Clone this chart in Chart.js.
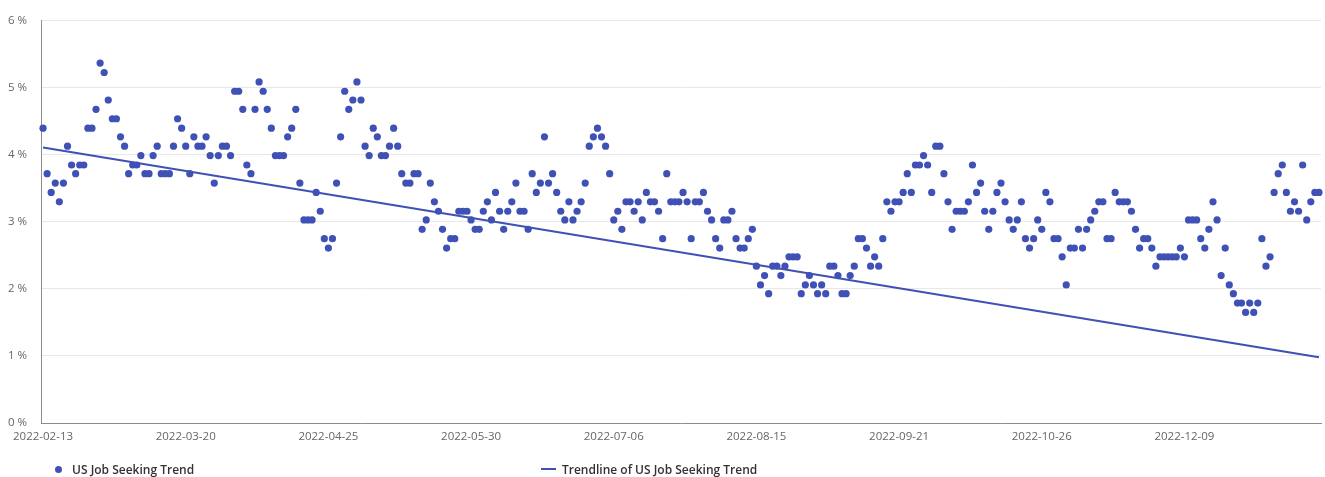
<!DOCTYPE html>
<html>
<head>
<meta charset="utf-8">
<title>US Job Seeking Trend</title>
<script src="https://cdn.jsdelivr.net/npm/chart.js@4.4.0/dist/chart.umd.min.js"></script>
<style>
    html, body { margin: 0; padding: 0; background: #fff; }
    #wrap { position: relative; width: 1325px; height: 477px; }
    .legend-item {
        position: absolute;
        top: 460px;
        height: 18px;
        display: flex;
        align-items: center;
        font: 600 12px "Open Sans", sans-serif;
        color: #333;
        white-space: nowrap;
    }
    .legend-dot { width: 7px; height: 7px; border-radius: 50%; background: #3f51b5; margin-right: 10px; }
    .legend-line { width: 15px; height: 2px; background: #3f51b5; margin-right: 6px; }
</style>
</head>
<body>
<div id="wrap">
    <canvas id="trend-chart"></canvas>
    <div class="legend-item" style="left: 55px;"><span class="legend-dot"></span>US Job Seeking Trend</div>
    <div class="legend-item" style="left: 541px;"><span class="legend-line"></span>Trendline of US Job Seeking Trend</div>
</div>
<script>
// Etiquetas del eje X (una cada 35 puntos)
const tickLabels = ['2022-02-13', '2022-03-20', '2022-04-25', '2022-05-30', '2022-07-06',
    '2022-08-15', '2022-09-21', '2022-10-26', '2022-12-09'];
const tickEvery = 35;

// Valores diarios en %
const jobSeeking = [
    4.40, 3.72, 3.44, 3.58, 3.30, 3.58, 4.13, 3.85, 3.72, 3.85,
    3.85, 4.40, 4.40, 4.68, 5.37, 5.23, 4.82, 4.54, 4.54, 4.27,
    4.13, 3.72, 3.85, 3.85, 3.99, 3.72, 3.72, 3.99, 4.13, 3.72,
    3.72, 3.72, 4.13, 4.54, 4.40, 4.13, 3.72, 4.27, 4.13, 4.13,
    4.27, 3.99, 3.58, 3.99, 4.13, 4.13, 3.99, 4.95, 4.95, 4.68,
    3.85, 3.72, 4.68, 5.09, 4.95, 4.68, 4.40, 3.99, 3.99, 3.99,
    4.27, 4.40, 4.68, 3.58, 3.03, 3.03, 3.03, 3.44, 3.16, 2.75,
    2.61, 2.75, 3.58, 4.27, 4.95, 4.68, 4.82, 5.09, 4.82, 4.13,
    3.99, 4.40, 4.27, 3.99, 3.99, 4.13, 4.40, 4.13, 3.72, 3.58,
    3.58, 3.72, 3.72, 2.89, 3.03, 3.58, 3.30, 3.16, 2.89, 2.61,
    2.75, 2.75, 3.16, 3.16, 3.16, 3.03, 2.89, 2.89, 3.16, 3.30,
    3.03, 3.44, 3.16, 2.89, 3.16, 3.30, 3.58, 3.16, 3.16, 2.89,
    3.72, 3.44, 3.58, 4.27, 3.58, 3.72, 3.44, 3.16, 3.03, 3.30,
    3.03, 3.16, 3.30, 3.58, 4.13, 4.27, 4.40, 4.27, 4.13, 3.72,
    3.03, 3.16, 2.89, 3.30, 3.30, 3.16, 3.30, 3.03, 3.44, 3.30,
    3.30, 3.16, 2.75, 3.72, 3.30, 3.30, 3.30, 3.44, 3.30, 2.75,
    3.30, 3.30, 3.44, 3.16, 3.03, 2.75, 2.61, 3.03, 3.03, 3.16,
    2.75, 2.61, 2.61, 2.75, 2.89, 2.34, 2.06, 2.20, 1.93, 2.34,
    2.34, 2.20, 2.34, 2.48, 2.48, 2.48, 1.93, 2.06, 2.20, 2.06,
    1.93, 2.06, 1.93, 2.34, 2.34, 2.20, 1.93, 1.93, 2.20, 2.34,
    2.75, 2.75, 2.61, 2.34, 2.48, 2.34, 2.75, 3.30, 3.16, 3.30,
    3.30, 3.44, 3.72, 3.44, 3.85, 3.85, 3.99, 3.85, 3.44, 4.13,
    4.13, 3.72, 3.30, 2.89, 3.16, 3.16, 3.16, 3.30, 3.85, 3.44,
    3.58, 3.16, 2.89, 3.16, 3.44, 3.58, 3.30, 3.03, 2.89, 3.03,
    3.30, 2.75, 2.61, 2.75, 3.03, 2.89, 3.44, 3.30, 2.75, 2.75,
    2.48, 2.06, 2.61, 2.61, 2.89, 2.61, 2.89, 3.03, 3.16, 3.30,
    3.30, 2.75, 2.75, 3.44, 3.30, 3.30, 3.30, 3.16, 2.89, 2.61,
    2.75, 2.75, 2.61, 2.34, 2.48, 2.48, 2.48, 2.48, 2.48, 2.61,
    2.48, 3.03, 3.03, 3.03, 2.75, 2.61, 2.89, 3.30, 3.03, 2.20,
    2.61, 2.06, 1.93, 1.79, 1.79, 1.65, 1.79, 1.65, 1.79, 2.75,
    2.34, 2.48, 3.44, 3.72, 3.85, 3.44, 3.16, 3.30, 3.16, 3.85,
    3.03, 3.30, 3.44, 3.44,
];

// Línea de tendencia: valor en el primer y en el último punto
const trendline = [4.11, 0.98];

const blue = '#3f51b5';
const categories = jobSeeking.map((_, i) => i);
const trendData = categories.map((i) => {
    if (i === 0) return trendline[0];
    if (i === categories.length - 1) return trendline[1];
    return null;
});

const tickFont = { family: '"Open Sans", sans-serif', size: 11.5 };

const ctx = document.getElementById('trend-chart').getContext('2d');
window.trendChart = new Chart(ctx, {
    type: 'line',
    data: {
        labels: categories,
        datasets: [
            {
                label: 'US Job Seeking Trend',
                data: jobSeeking,
                showLine: false,
                pointRadius: 3.6,
                pointBorderWidth: 0,
                pointBackgroundColor: blue,
                backgroundColor: blue,
                borderColor: blue,
            },
            {
                label: 'Trendline of US Job Seeking Trend',
                data: trendData,
                spanGaps: true,
                borderColor: blue,
                borderWidth: 2,
                pointRadius: 0,
            },
        ],
    },
    options: {
        responsive: true,
        maintainAspectRatio: false,
        animation: false,
        layout: { padding: { top: 17, right: 3, left: 0, bottom: 0 } },
        plugins: {
            legend: { display: false },
            tooltip: { enabled: false },
        },
        scales: {
            x: {
                offset: true,
                grid: { display: false, drawTicks: false },
                border: { display: true, color: '#8c8c8c' },
                ticks: {
                    autoSkip: false,
                    maxRotation: 0,
                    padding: 7,
                    color: '#666',
                    font: tickFont,
                    callback: (value, index) => (index % tickEvery === 0 ? tickLabels[index / tickEvery] : null),
                },
                afterFit: (scale) => { scale.height = 54; },
            },
            y: {
                min: 0,
                max: 6,
                grid: { color: '#e8e8e8', drawTicks: false },
                border: { display: true, color: '#8c8c8c' },
                ticks: {
                    stepSize: 1,
                    padding: 14,
                    color: '#666',
                    font: tickFont,
                    callback: (value) => `${value} %`,
                },
                afterFit: (scale) => { scale.width = 41; },
            },
        },
    },
});
</script>
</body>
</html>
